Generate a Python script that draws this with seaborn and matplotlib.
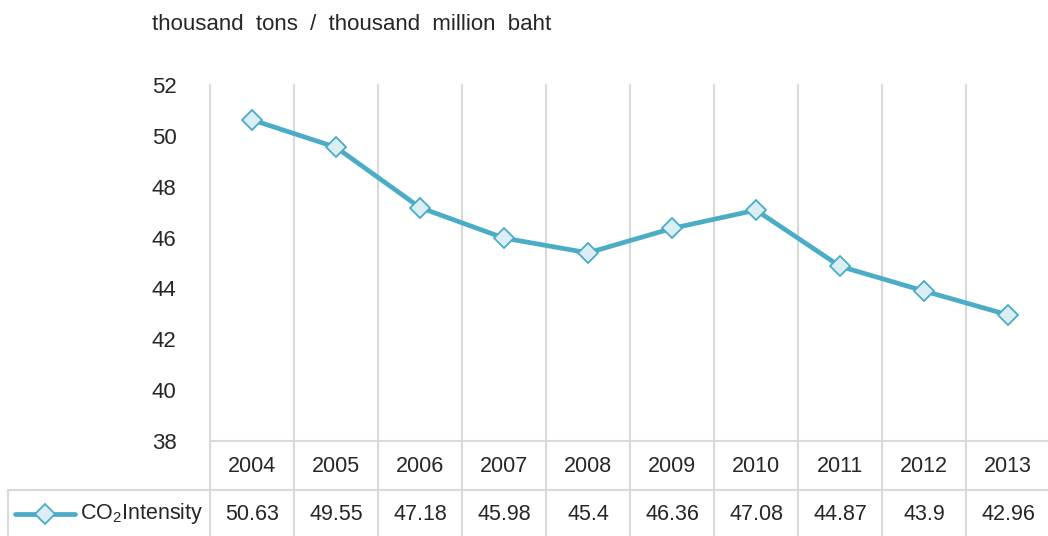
# CO2 intensity line chart with data table

import matplotlib
matplotlib.use("Agg")
import matplotlib.pyplot as plt
import seaborn as sns
import pandas as pd

# Data
years = ["2004", "2005", "2006", "2007", "2008", "2009", "2010", "2011", "2012", "2013"]
intensity = [50.63, 49.55, 47.18, 45.98, 45.4, 46.36, 47.08, 44.87, 43.9, 42.96]
value_labels = ["50.63", "49.55", "47.18", "45.98", "45.4", "46.36", "47.08", "44.87", "43.9", "42.96"]
y_ticks = [38, 40, 42, 44, 46, 48, 50, 52]

df = pd.DataFrame({"pos": range(len(years)), "year": years, "value": intensity})

sns.set_style("white")
plt.rcParams["font.family"] = ["Liberation Sans", "DejaVu Sans"]
plt.rcParams["mathtext.default"] = "regular"

line_color = "#4BACC6"
face_color = "#DAEEF3"
grid_color = "#D9D9D9"
text_color = "#262626"
fs = 15.5

W, H = 1048, 536
fig = plt.figure(figsize=(W / 100, H / 100), dpi=100)
ax = fig.add_axes([210 / W, (H - 441) / H, 840 / W, 356 / H])

sns.lineplot(data=df, x="pos", y="value", ax=ax, color=line_color, linewidth=3.4,
             marker="D", markersize=10, markerfacecolor=face_color,
             markeredgecolor=line_color, markeredgewidth=1.3, zorder=3)

ax.set_xlim(-0.5, len(years) - 0.5)
ax.set_ylim(38, 52)
ax.set_yticks(y_ticks)
ax.set_yticklabels([str(t) for t in y_ticks], fontsize=16, color=text_color)
ax.tick_params(axis="y", length=0, pad=24)
ax.set_xticks([])
ax.set_xlabel("")
ax.set_ylabel("")
for s in ax.spines.values():
    s.set_visible(False)

# vertical grid lines at category boundaries, running through the table
tr = ax.get_xaxis_transform()
y_bottom = -(H - 441) / 356
for i in range(len(years) + 1):
    ax.plot([i - 0.5, i - 0.5], [1.0, y_bottom], transform=tr, color=grid_color,
            lw=1.5, clip_on=False, zorder=1)

# table horizontal lines
ax.plot([-0.5, len(years) - 0.5], [0, 0], transform=tr,
        color=grid_color, lw=1.5, clip_on=False, zorder=1)
fig.add_artist(plt.Line2D([8 / W, 1.0], [(H - 490) / H, (H - 490) / H],
                          color=grid_color, lw=1.5))
fig.add_artist(plt.Line2D([8 / W, 8 / W], [(H - 490) / H, 0], color=grid_color, lw=1.5))

# table text
y_head = -(466 - 441) / 356
y_vals = -(514 - 441) / 356
for i, (yr, lab) in enumerate(zip(years, value_labels)):
    ax.text(i, y_head, yr, transform=tr, ha="center", va="center", fontsize=fs,
            color=text_color)
    ax.text(i, y_vals, lab, transform=tr, ha="center", va="center", fontsize=fs,
            color=text_color)

# legend key in the table
ly = (H - 514) / H
fig.add_artist(plt.Line2D([15 / W, 75 / W], [ly, ly], color=line_color, lw=3.4))
fig.add_artist(plt.Line2D([45 / W], [ly], marker="D", markersize=10,
                          markerfacecolor=face_color, markeredgecolor=line_color,
                          markeredgewidth=1.3))
fig.text(80 / W, ly, "CO$_{2}$Intensity", ha="left", va="center", fontsize=fs,
         color=text_color)

# unit title
fig.text(152 / W, (H - 25) / H, "thousand  tons  /  thousand  million  baht",
         ha="left", va="center", fontsize=16, color=text_color)

fig.savefig("out.png", dpi=100)
